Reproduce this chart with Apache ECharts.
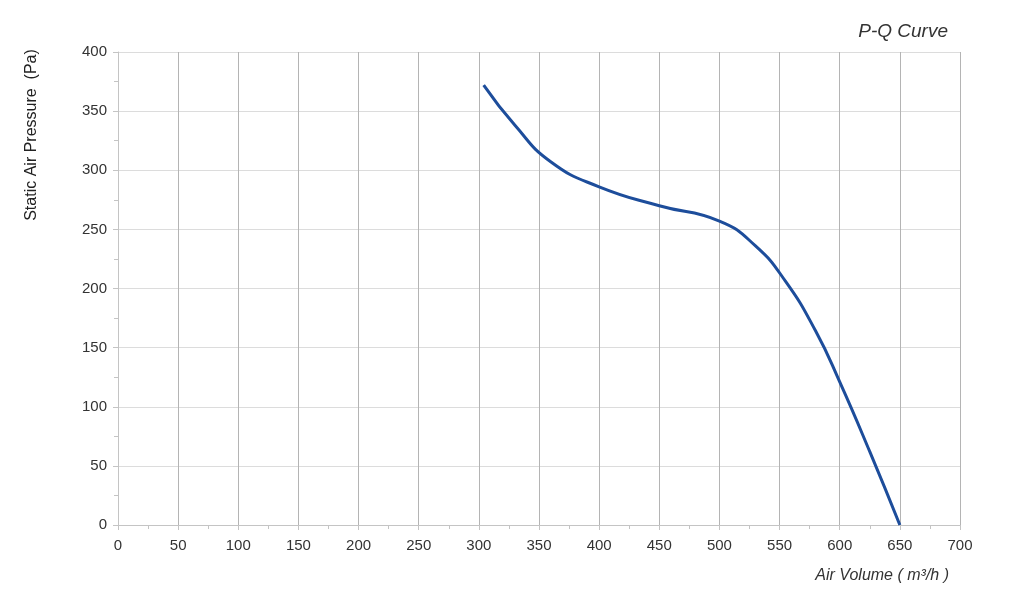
<!DOCTYPE html>
<html><head><meta charset="utf-8">
<script src="https://cdn.jsdelivr.net/npm/echarts@6/dist/echarts.min.js"></script>
<style>html,body{margin:0;padding:0;background:#fff}#c{width:1024px;height:608px}</style>
</head><body><div id="c"></div>
<script>
const airVolume = [304, 330, 360, 400, 450, 500, 530, 555, 580, 600, 625, 650];
const pressure  = [372, 338, 307, 286, 270, 257, 236, 206, 164, 121, 62, 0];
const titleText = 'P-Q Curve';
const xName = 'Air Volume ( m³/h )';
const yName = 'Static Air Pressure  (Pa)';

const chart = echarts.init(document.getElementById('c'), null, {renderer: 'canvas'});
const font = 'Liberation Sans, Arial, sans-serif';
chart.setOption({
  animation: false,
  backgroundColor: '#fff',
  grid: {left: 118, right: 64, top: 52, bottom: 83},
  graphic: [
    {type: 'text', x: 948, y: 32, style: {text: titleText, font: 'italic 19px ' + font, fill: '#333', align: 'right', verticalAlign: 'middle'}},
    {type: 'text', x: 949, y: 576, style: {text: xName, font: 'italic 16px ' + font, fill: '#333', align: 'right', verticalAlign: 'middle'}},
    {type: 'text', x: 32, y: 135, rotation: Math.PI / 2, style: {text: yName, font: '16px ' + font, fill: '#222', align: 'center', verticalAlign: 'middle'}}
  ],
  xAxis: {
    type: 'value', min: 0, max: 700, interval: 50,
    axisLine: {show: true, lineStyle: {color: '#c4c4c4', width: 1}},
    axisTick: {show: true, length: 5, lineStyle: {color: '#c4c4c4'}},
    minorTick: {show: true, splitNumber: 2, length: 4, lineStyle: {color: '#c4c4c4'}},
    splitLine: {show: true, lineStyle: {color: '#b4b4b4', width: 1}},
    axisLabel: {fontSize: 15, color: '#333', fontFamily: font, margin: 13}
  },
  yAxis: {
    type: 'value', min: 0, max: 400, interval: 50,
    axisLine: {show: true, lineStyle: {color: '#c4c4c4', width: 1}},
    axisTick: {show: true, length: 5, lineStyle: {color: '#c4c4c4'}},
    minorTick: {show: true, splitNumber: 2, length: 4, lineStyle: {color: '#c4c4c4'}},
    splitLine: {show: true, lineStyle: {color: '#dcdcdc', width: 1}},
    axisLabel: {fontSize: 15, color: '#333', fontFamily: font, margin: 11}
  },
  series: [{
    type: 'line',
    data: airVolume.map((x, i) => [x, pressure[i]]),
    smooth: 0.5,
    symbol: 'none',
    lineStyle: {color: '#1d4d9b', width: 3}
  }]
});
</script></body></html>
